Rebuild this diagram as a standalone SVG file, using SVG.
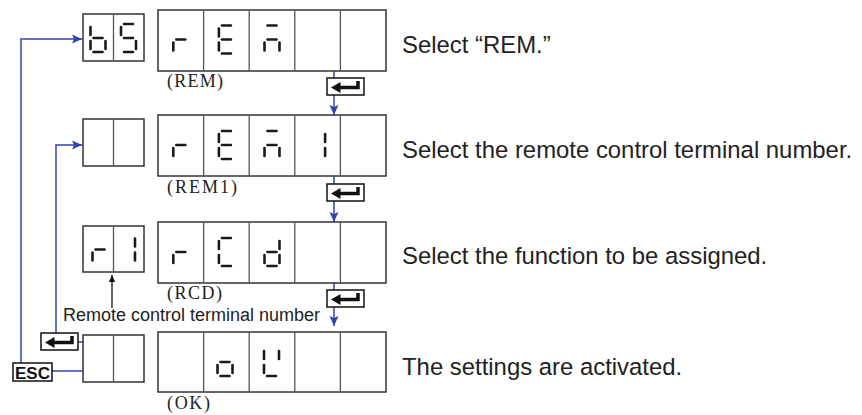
<svg xmlns="http://www.w3.org/2000/svg" xmlns:xlink="http://www.w3.org/1999/xlink" width="862" height="415" viewBox="0 0 862 415">
<style>
  .box{fill:#fff;stroke:#333;stroke-width:1.5}
  .div{stroke:#555;stroke-width:1.3}
  .seg{stroke:#1a1a1a;stroke-width:2.6;stroke-linecap:round;fill:none}
  .conn{stroke:#3344aa;stroke-width:1.5;fill:none}
  .blk{stroke:#111;stroke-width:1.3;fill:none}
  .desc{font-family:"Liberation Sans",Arial,sans-serif;font-size:23.9px;fill:#222}
  .lbl{font-family:"Liberation Serif","Times New Roman",serif;font-size:18px;fill:#222}
  .note{font-family:"Liberation Sans",Arial,sans-serif;font-size:18px;fill:#222}
  .esc{font-family:"Liberation Sans",Arial,sans-serif;font-size:17px;font-weight:bold;fill:#111}
</style>
<defs>
  <path id="sh" d="M3,0H12"/>
  <path id="sv" d="M0,3V11"/>
  <marker id="ab" viewBox="0 0 10 10" refX="10" refY="5" markerWidth="10" markerHeight="10" markerUnits="userSpaceOnUse" orient="auto">
    <path d="M0,0.5L10,5L0,9.5L2,5Z" fill="#3344aa"/>
  </marker>
  <marker id="ak" viewBox="0 0 10 10" refX="10" refY="5" markerWidth="8" markerHeight="7" markerUnits="userSpaceOnUse" orient="auto">
    <path d="M0,0.5L10,5L0,9.5Z" fill="#111"/>
  </marker>
  <g id="enter">
    <rect x="0" y="0" width="37" height="17" fill="#fff" stroke="#111" stroke-width="1.5"/>
    <path d="M31,3V9.5H12" fill="none" stroke="#111" stroke-width="3.5"/>
    <path d="M4,9.5L13.5,4L13.5,15Z" fill="#111"/>
  </g>
</defs>

<g id="connectors">
  <path class="conn" d="M21,363V39H82" marker-end="url(#ab)"/>
  <path class="conn" d="M56,333V145H82" marker-end="url(#ab)"/>
  <path class="conn" d="M77,342H83"/>
  <path class="conn" d="M52,371H83"/>
  <path class="conn" d="M334,71V115" marker-end="url(#ab)"/>
  <path class="conn" d="M334,176V222" marker-end="url(#ab)"/>
  <path class="conn" d="M334,283V326" marker-end="url(#ab)"/>
  <path class="blk" d="M112,308V275" marker-end="url(#ak)"/>
</g>

<g id="enter-keys">
  <use xlink:href="#enter" x="327" y="78"/>
  <use xlink:href="#enter" x="327" y="184"/>
  <use xlink:href="#enter" x="327" y="290"/>
  <use xlink:href="#enter" x="41" y="333"/>
</g>

<g id="esc-key">
  <rect x="13" y="363" width="39" height="18" fill="#fff" stroke="#111" stroke-width="1.5"/>
  <text class="esc" x="32.5" y="379" text-anchor="middle">ESC</text>
</g>

<!-- Row 1 -->
<g id="row1-small">
  <rect class="box" x="83" y="14" width="61" height="47"/>
  <line class="div" x1="113.5" y1="14" x2="113.5" y2="61"/>
  <g class="seg" transform="translate(90.5,24)">
    <use xlink:href="#sv" x="15" y="14"/><use xlink:href="#sh" y="28"/><use xlink:href="#sv" y="14"/><use xlink:href="#sv"/><use xlink:href="#sh" y="14"/>
  </g>
  <g class="seg" transform="translate(121,24)">
    <use xlink:href="#sh"/><use xlink:href="#sv"/><use xlink:href="#sh" y="14"/><use xlink:href="#sv" x="15" y="14"/><use xlink:href="#sh" y="28"/>
  </g>
</g>
<g id="row1-display">
  <rect class="box" x="158" y="10" width="228" height="61"/>
  <line class="div" x1="203.6" y1="10" x2="203.6" y2="71"/>
  <line class="div" x1="249.2" y1="10" x2="249.2" y2="71"/>
  <line class="div" x1="294.8" y1="10" x2="294.8" y2="71"/>
  <line class="div" x1="340.4" y1="10" x2="340.4" y2="71"/>
  <g class="seg" transform="translate(173.3,25.5)">
    <use xlink:href="#sv" y="14"/><use xlink:href="#sh" y="14"/>
  </g>
  <g class="seg" transform="translate(218.9,25.5)">
    <use xlink:href="#sh"/><use xlink:href="#sh" y="14"/><use xlink:href="#sh" y="28"/><use xlink:href="#sv"/><use xlink:href="#sv" y="14"/>
  </g>
  <g class="seg" transform="translate(264.5,25.5)">
    <use xlink:href="#sh"/><use xlink:href="#sh" y="14"/><use xlink:href="#sv" y="14"/><use xlink:href="#sv" x="15" y="14"/>
  </g>
  <text class="lbl" x="167" y="87" textLength="56" lengthAdjust="spacing">(REM)</text>
</g>
<text class="desc" x="402" y="53">Select “REM.”</text>

<!-- Row 2 -->
<g id="row2-small">
  <rect class="box" x="83" y="119" width="61" height="47"/>
  <line class="div" x1="113.5" y1="119" x2="113.5" y2="166"/>
</g>
<g id="row2-display">
  <rect class="box" x="158" y="115" width="228" height="61"/>
  <line class="div" x1="203.6" y1="115" x2="203.6" y2="176"/>
  <line class="div" x1="249.2" y1="115" x2="249.2" y2="176"/>
  <line class="div" x1="294.8" y1="115" x2="294.8" y2="176"/>
  <line class="div" x1="340.4" y1="115" x2="340.4" y2="176"/>
  <g class="seg" transform="translate(173.3,131)">
    <use xlink:href="#sv" y="14"/><use xlink:href="#sh" y="14"/>
  </g>
  <g class="seg" transform="translate(218.9,131)">
    <use xlink:href="#sh"/><use xlink:href="#sh" y="14"/><use xlink:href="#sh" y="28"/><use xlink:href="#sv"/><use xlink:href="#sv" y="14"/>
  </g>
  <g class="seg" transform="translate(264.5,131)">
    <use xlink:href="#sh"/><use xlink:href="#sh" y="14"/><use xlink:href="#sv" y="14"/><use xlink:href="#sv" x="15" y="14"/>
  </g>
  <g class="seg" transform="translate(310.1,131)">
    <use xlink:href="#sv" x="15"/><use xlink:href="#sv" x="15" y="14"/>
  </g>
  <text class="lbl" x="167" y="193" textLength="70" lengthAdjust="spacing">(REM1)</text>
</g>
<text class="desc" x="402" y="158">Select the remote control terminal number.</text>

<!-- Row 3 -->
<g id="row3-small">
  <rect class="box" x="83" y="226" width="61" height="46"/>
  <line class="div" x1="113.5" y1="226" x2="113.5" y2="272"/>
  <g class="seg" transform="translate(92.5,235.5)">
    <use xlink:href="#sv" y="14"/><use xlink:href="#sh" y="14"/>
  </g>
  <g class="seg" transform="translate(120,235.5)">
    <use xlink:href="#sv" x="15"/><use xlink:href="#sv" x="15" y="14"/>
  </g>
</g>
<g id="row3-display">
  <rect class="box" x="158" y="222" width="228" height="61"/>
  <line class="div" x1="203.6" y1="222" x2="203.6" y2="283"/>
  <line class="div" x1="249.2" y1="222" x2="249.2" y2="283"/>
  <line class="div" x1="294.8" y1="222" x2="294.8" y2="283"/>
  <line class="div" x1="340.4" y1="222" x2="340.4" y2="283"/>
  <g class="seg" transform="translate(173.3,238)">
    <use xlink:href="#sv" y="14"/><use xlink:href="#sh" y="14"/>
  </g>
  <g class="seg" transform="translate(218.9,238)">
    <use xlink:href="#sh"/><use xlink:href="#sh" y="28"/><use xlink:href="#sv"/><use xlink:href="#sv" y="14"/>
  </g>
  <g class="seg" transform="translate(264.5,238)">
    <use xlink:href="#sv" x="15"/><use xlink:href="#sv" x="15" y="14"/><use xlink:href="#sh" y="28"/><use xlink:href="#sv" y="14"/><use xlink:href="#sh" y="14"/>
  </g>
  <text class="lbl" x="167" y="299" textLength="55" lengthAdjust="spacing">(RCD)</text>
</g>
<text class="desc" x="402" y="264">Select the function to be assigned.</text>
<text class="note" x="63" y="321">Remote control terminal number</text>

<!-- Row 4 -->
<g id="row4-small">
  <rect class="box" x="83" y="335" width="61" height="47"/>
  <line class="div" x1="113.5" y1="335" x2="113.5" y2="382"/>
</g>
<g id="row4-display">
  <rect class="box" x="158" y="332" width="228" height="60"/>
  <line class="div" x1="203.6" y1="332" x2="203.6" y2="392"/>
  <line class="div" x1="249.2" y1="332" x2="249.2" y2="392"/>
  <line class="div" x1="294.8" y1="332" x2="294.8" y2="392"/>
  <line class="div" x1="340.4" y1="332" x2="340.4" y2="392"/>
  <g class="seg" transform="translate(217.5,348)">
    <use xlink:href="#sh" y="14"/><use xlink:href="#sv" y="14"/><use xlink:href="#sv" x="15" y="14"/><use xlink:href="#sh" y="28"/>
  </g>
  <g class="seg" transform="translate(264,348)">
    <use xlink:href="#sv"/><use xlink:href="#sv" y="14"/><use xlink:href="#sv" x="15"/><use xlink:href="#sh" y="28"/>
  </g>
  <text class="lbl" x="167" y="409" textLength="43" lengthAdjust="spacing">(OK)</text>
</g>
<text class="desc" x="402" y="375">The settings are activated.</text>
</svg>
